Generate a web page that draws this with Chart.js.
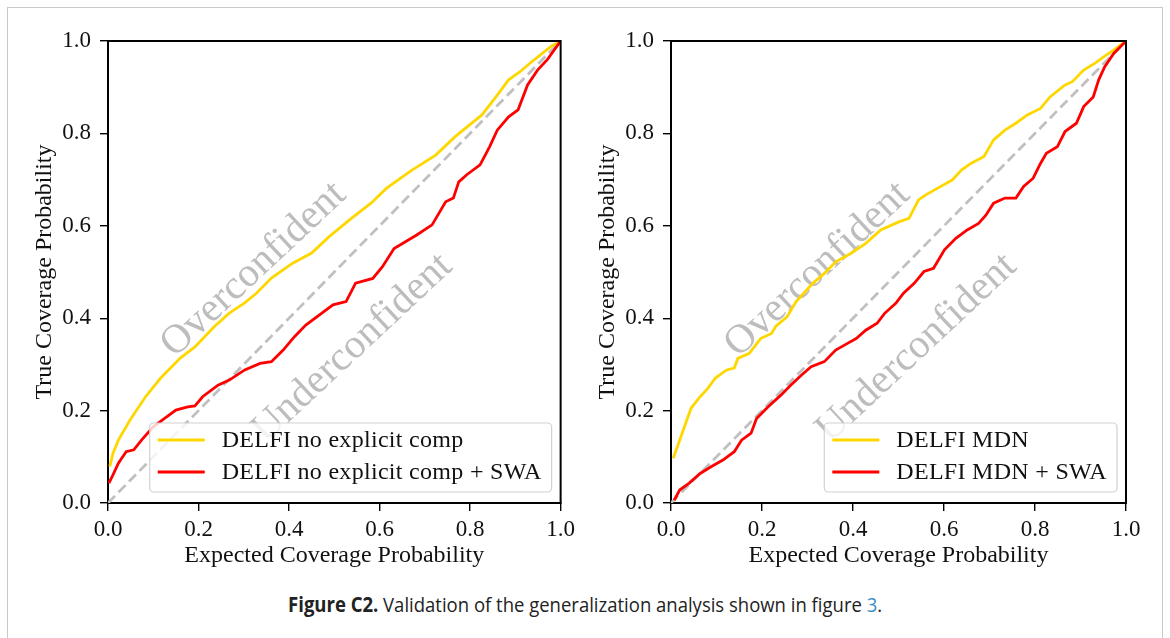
<!DOCTYPE html>
<html>
<head>
<meta charset="utf-8">
<script src="https://cdn.jsdelivr.net/npm/chart.js@4.4.1/dist/chart.umd.min.js"></script>
<style>
  body { margin: 0; background: #fff; width: 1170px; height: 638px; overflow: hidden; position: relative; }
  #frame { position: absolute; left: 7px; top: 7px; width: 1154px; height: 700px; border: 1.5px solid #c9c9c9; }
  canvas { position: absolute; top: 0; }
  #c1 { left: 0; }
  #c2 { left: 580px; }
  #caption { position: absolute; top: 590px; left: 0; width: 1170px; text-align: center; white-space: nowrap;
             font-family: "Open Sans", sans-serif; font-size: 20.5px; color: #222; }
  #capText { display: inline-block; transform-origin: 50% 50%; }
  #caption b { font-weight: bold; }
  #caption .ref { color: #3a8fc4; }
</style>
</head>
<body>
<div id="frame"></div>
<canvas id="c1" width="580" height="580"></canvas>
<canvas id="c2" width="580" height="580"></canvas>
<div id="caption"><span id="capText"><b>Figure C2.</b> Validation of the generalization analysis shown in figure <span class="ref">3</span>.</span></div>
<script>
const tickValues = [0.0, 0.2, 0.4, 0.6, 0.8, 1.0];
const diagonalX = [0, 1];
const diagonalY = [0, 1];

// left panel: DELFI no explicit comp
const noCompX = [0.004,0.011,0.023,0.049,0.083,0.116,0.159,0.192,0.235,0.268,0.302,0.328,0.361,0.408,0.45,0.488,0.539,0.581,0.615,0.669,0.724,0.767,0.826,0.86,0.885,0.911,0.936,0.978,1.0];
const noCompY = [0.079,0.108,0.136,0.18,0.23,0.27,0.313,0.338,0.382,0.411,0.433,0.454,0.487,0.519,0.541,0.576,0.617,0.649,0.681,0.719,0.753,0.793,0.84,0.883,0.916,0.934,0.955,0.988,1.0];
const noCompSwaX = [0.002,0.011,0.023,0.04,0.057,0.074,0.1,0.125,0.15,0.176,0.192,0.209,0.243,0.268,0.302,0.336,0.361,0.387,0.412,0.437,0.471,0.497,0.526,0.547,0.585,0.606,0.632,0.682,0.716,0.746,0.763,0.775,0.792,0.822,0.843,0.86,0.885,0.906,0.927,0.949,0.97,1.0];
const noCompSwaY = [0.043,0.061,0.086,0.111,0.115,0.136,0.165,0.183,0.201,0.208,0.21,0.23,0.255,0.266,0.288,0.302,0.306,0.331,0.36,0.385,0.41,0.429,0.436,0.476,0.486,0.511,0.551,0.58,0.602,0.652,0.66,0.695,0.71,0.732,0.771,0.807,0.836,0.851,0.905,0.937,0.959,1.0];

// right panel: DELFI MDN
const mdnX = [0.005,0.027,0.044,0.064,0.081,0.097,0.122,0.139,0.147,0.172,0.197,0.221,0.23,0.255,0.275,0.312,0.337,0.362,0.395,0.428,0.461,0.502,0.523,0.544,0.56,0.585,0.618,0.639,0.659,0.688,0.709,0.734,0.758,0.783,0.812,0.833,0.866,0.882,0.907,0.932,0.957,0.973,1.0];
const mdnY = [0.097,0.158,0.205,0.23,0.248,0.27,0.288,0.292,0.313,0.324,0.356,0.367,0.382,0.403,0.436,0.476,0.497,0.522,0.54,0.562,0.591,0.609,0.616,0.656,0.667,0.681,0.699,0.721,0.735,0.75,0.786,0.807,0.822,0.84,0.854,0.879,0.905,0.912,0.937,0.952,0.97,0.98,1.0];
const mdnSwaX = [0.007,0.019,0.04,0.064,0.089,0.114,0.139,0.155,0.176,0.188,0.213,0.242,0.263,0.287,0.308,0.337,0.362,0.387,0.407,0.428,0.453,0.469,0.494,0.511,0.535,0.556,0.577,0.601,0.626,0.651,0.676,0.692,0.709,0.734,0.758,0.775,0.796,0.812,0.825,0.849,0.866,0.891,0.907,0.928,0.94,0.953,0.973,1.0];
const mdnSwaY = [0.006,0.028,0.043,0.064,0.079,0.093,0.111,0.136,0.151,0.183,0.208,0.234,0.255,0.277,0.295,0.306,0.331,0.345,0.356,0.374,0.389,0.41,0.432,0.454,0.476,0.501,0.508,0.548,0.573,0.591,0.605,0.623,0.649,0.66,0.66,0.685,0.703,0.735,0.757,0.771,0.804,0.822,0.858,0.879,0.916,0.944,0.973,1.0];

const regionLabels = ["Overconfident", "Underconfident"];

const SERIF = "'Liberation Serif', 'DejaVu Serif', serif";
const GOLD = "#ffd700";
const RED = "#ff0000";

function pts(xs, ys) {
  return xs.map((x, i) => ({ x: x, y: ys[i] }));
}

// top + right spines
const framePlugin = {
  id: "frame",
  afterDraw(chart) {
    const a = chart.chartArea, ctx = chart.ctx;
    ctx.save();
    ctx.strokeStyle = "#000";
    ctx.lineWidth = 2;
    ctx.beginPath();
    ctx.moveTo(a.left - 1, a.top);
    ctx.lineTo(a.right, a.top);
    ctx.lineTo(a.right, a.bottom + 1);
    ctx.stroke();
    ctx.restore();
  }
};

// faint rotated Over/Underconfident words
const regionTextPlugin = {
  id: "regionText",
  beforeDatasetsDraw(chart, args, opts) {
    const ctx = chart.ctx, xs = chart.scales.x, ys = chart.scales.y;
    ctx.save();
    ctx.font = "41px " + SERIF;
    ctx.fillStyle = "#bdbdbd";
    ctx.textAlign = "center";
    ctx.textBaseline = "middle";
    opts.items.forEach(it => {
      ctx.save();
      ctx.translate(xs.getPixelForValue(it.x), ys.getPixelForValue(it.y));
      ctx.rotate(-43 * Math.PI / 180);
      ctx.fillText(it.text, 0, 0);
      ctx.restore();
    });
    ctx.restore();
  }
};

// matplotlib style legend in lower right
const boxLegendPlugin = {
  id: "boxLegend",
  afterDraw(chart, args, opts) {
    const ctx = chart.ctx, a = chart.chartArea;
    const items = chart.data.datasets.filter(d => d.label);
    ctx.save();
    ctx.font = "24px " + SERIF;
    ctx.letterSpacing = "0.3px";
    let maxW = 0;
    items.forEach(d => { maxW = Math.max(maxW, ctx.measureText(d.label).width); });
    const w = 82 + maxW, h = 69;
    const x0 = a.right - 9 - w, y0 = a.bottom - 11 - h;
    ctx.beginPath();
    ctx.roundRect(x0, y0, w, h, 4);
    ctx.fillStyle = "rgba(255,255,255,0.8)";
    ctx.fill();
    ctx.strokeStyle = "rgba(204,204,204,0.9)";
    ctx.lineWidth = 1.2;
    ctx.stroke();
    items.forEach((d, i) => {
      const cy = y0 + 17 + i * 32;
      ctx.strokeStyle = d.borderColor;
      ctx.lineWidth = 2.8;
      ctx.beginPath();
      ctx.moveTo(x0 + 8, cy);
      ctx.lineTo(x0 + 55, cy);
      ctx.stroke();
      ctx.fillStyle = "#111";
      ctx.textAlign = "left";
      ctx.textBaseline = "middle";
      ctx.fillText(d.label, x0 + 72, cy + 1);
    });
    ctx.restore();
  }
};

function axis(title, isY, axisSize, titlePad) {
  return {
    type: "linear",
    min: 0,
    max: 1,
    afterBuildTicks: s => { s.ticks = tickValues.map(v => ({ value: v })); },
    afterFit: s => { if (isY) s.width = axisSize; else s.height = axisSize; },
    grid: { display: true, drawOnChartArea: false, drawTicks: true, tickLength: 8, color: "#000", lineWidth: 1.4 },
    border: { display: true, color: "#000", width: 2 },
    ticks: {
      color: "#111",
      font: { family: SERIF, size: 23 },
      padding: isY ? 9 : 5,
      maxRotation: 0,
      autoSkip: false,
      callback: v => Number(v).toFixed(1)
    },
    title: {
      display: true,
      text: title,
      color: "#111",
      font: { family: SERIF, size: 24 },
      padding: isY ? { top: titlePad, bottom: 0 } : { top: 0, bottom: titlePad }
    }
  };
}

function makeChart(id, labels, xsA, ysA, xsB, ysB, yWidth, yTitlePad, rightPad) {
  return new Chart(document.getElementById(id), {
    type: "scatter",
    data: {
      datasets: [
        { label: labels[0], data: pts(xsA, ysA), borderColor: GOLD, borderWidth: 2.8, showLine: true, pointRadius: 0, tension: 0, order: 2 },
        { label: labels[1], data: pts(xsB, ysB), borderColor: RED, borderWidth: 2.8, showLine: true, pointRadius: 0, tension: 0, order: 1 },
        { label: "", data: pts(diagonalX, diagonalY), borderColor: "#c0c0c0", borderWidth: 2.8, borderDash: [10, 5], showLine: true, pointRadius: 0, order: 3 }
      ]
    },
    options: {
      responsive: false,
      animation: false,
      layout: { padding: { top: 41, right: rightPad, left: 0, bottom: 0 } },
      scales: {
        x: axis("Expected Coverage Probability", false, 77, 10),
        y: axis("True Coverage Probability", true, yWidth, yTitlePad)
      },
      plugins: {
        legend: { display: false },
        tooltip: { enabled: false },
        regionText: {
          items: [
            { text: regionLabels[0], x: 0.322, y: 0.505 },
            { text: regionLabels[1], x: 0.54, y: 0.335 }
          ]
        }
      }
    },
    plugins: [regionTextPlugin, framePlugin, boxLegendPlugin]
  });
}

makeChart("c1", ["DELFI no explicit comp", "DELFI no explicit comp + SWA"], noCompX, noCompY, noCompSwaX, noCompSwaY, 108, 30, 19);
makeChart("c2", ["DELFI MDN", "DELFI MDN + SWA"], mdnX, mdnY, mdnSwaX, mdnSwaY, 91, 13, 34);

// squeeze caption to the width of the original line
const cap = document.getElementById("capText");
const w = cap.getBoundingClientRect().width;
cap.style.transform = "scaleX(" + (594 / w).toFixed(4) + ")";
</script>
</body>
</html>
